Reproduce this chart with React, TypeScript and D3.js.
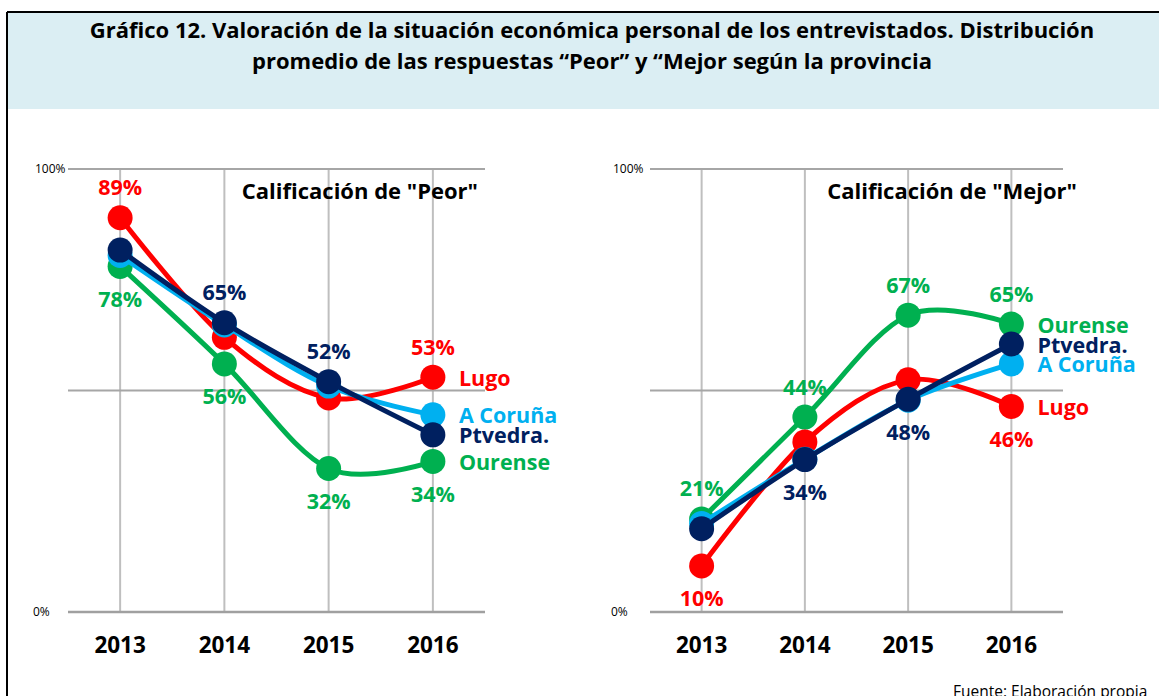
import * as d3 from 'd3'

const years = ['2013', '2014', '2015', '2016']

// draw order: first drawn sits at the bottom
const provinces = ['Ourense', 'Lugo', 'A Coruña', 'Ptvedra.']
const colors: Record<string, string> = {
  Ourense: '#00b050',
  Lugo: '#ff0000',
  'A Coruña': '#00b0f0',
  'Ptvedra.': '#002060',
}

// "Peor" share per year
const peorOurense = [0.78, 0.56, 0.324, 0.34]
const peorLugo = [0.89, 0.62, 0.483, 0.53]
const peorCoruna = [0.805, 0.648, 0.51, 0.445]
const peorPtvedra = [0.817, 0.653, 0.52, 0.4]

// "Mejor" share per year
const mejorOurense = [0.21, 0.44, 0.67, 0.65]
const mejorLugo = [0.104, 0.384, 0.524, 0.464]
const mejorCoruna = [0.2, 0.345, 0.478, 0.56]
const mejorPtvedra = [0.188, 0.344, 0.48, 0.605]

const peorLabels = [
  { province: 'Lugo', year: '2013', pos: 'above' },
  { province: 'Lugo', year: '2016', pos: 'above' },
  { province: 'Ptvedra.', year: '2014', pos: 'above' },
  { province: 'Ptvedra.', year: '2015', pos: 'above' },
  { province: 'Ourense', year: '2013', pos: 'below' },
  { province: 'Ourense', year: '2014', pos: 'below' },
  { province: 'Ourense', year: '2015', pos: 'below' },
  { province: 'Ourense', year: '2016', pos: 'below' },
]

const mejorLabels = [
  { province: 'Ourense', year: '2013', pos: 'above' },
  { province: 'Ourense', year: '2014', pos: 'above' },
  { province: 'Ourense', year: '2015', pos: 'above' },
  { province: 'Ourense', year: '2016', pos: 'above' },
  { province: 'Ptvedra.', year: '2014', pos: 'below' },
  { province: 'Ptvedra.', year: '2015', pos: 'below' },
  { province: 'Lugo', year: '2013', pos: 'below' },
  { province: 'Lugo', year: '2016', pos: 'below' },
]

const titleLines = [
  'Gráfico 12. Valoración de la situación económica personal de los entrevistados. Distribución',
  'promedio de las respuestas “Peor” y “Mejor según la provincia',
]

const FONT = '"Open Sans", Lato, sans-serif'
const W = 1159
const H = 696

type Label = { province: string; year: string; pos: string }

const Panel = ({
  title,
  titleX,
  left,
  right,
  tickX,
  series,
  labels,
}: {
  title: string
  titleX: number
  left: number
  right: number
  tickX: number
  series: Record<string, number[]>
  labels: Label[]
}) => {
  const x = d3.scalePoint<string>().domain(years).range([left, right]).padding(0.5)
  const y = d3.scaleLinear().domain([0, 1]).range([612, 169])
  const line = d3
    .line<number>()
    .x((_, i) => x(years[i]) ?? 0)
    .y(d => y(d))
    .curve(d3.curveCatmullRom.alpha(0))
  const last = years[years.length - 1]

  return (
    <g>
      {years.map(yr => (
        <line key={yr} x1={x(yr)} x2={x(yr)} y1={y(1)} y2={y(0)} stroke="#bfbfbf" strokeWidth={2} />
      ))}
      {[1, 0.5].map(v => (
        <line key={v} x1={left} x2={right} y1={y(v)} y2={y(v)} stroke="#a6a6a6" strokeWidth={2} />
      ))}
      <line x1={left} x2={right} y1={y(0)} y2={y(0)} stroke="#a0a0a0" strokeWidth={2.5} />
      <text x={tickX} y={y(1)} dy="0.35em" fontSize={12} fontFamily={FONT}>100%</text>
      <text x={tickX - 2} y={y(0)} dy="0.35em" fontSize={12} fontFamily={FONT}>0%</text>
      {years.map(yr => (
        <text key={yr} x={x(yr)} y={653} textAnchor="middle" fontSize={22.5} fontWeight="bold" fontFamily={FONT}>
          {yr}
        </text>
      ))}
      <text x={titleX} y={199} textAnchor="end" fontSize={22} fontWeight="bold" fontFamily={FONT}>
        {title}
      </text>
      {provinces.map(p => (
        <g key={p}>
          <path d={line(series[p]) ?? ''} fill="none" stroke={colors[p]} strokeWidth={5} />
          {series[p].map((v, i) => (
            <circle key={i} cx={x(years[i])} cy={y(v)} r={12.5} fill={colors[p]} />
          ))}
        </g>
      ))}
      {provinces.map(p => (
        <text
          key={p}
          x={(x(last) ?? 0) + 26}
          y={y(series[p][years.length - 1]) + 1}
          dy="0.35em"
          fontSize={21.5}
          fontWeight="bold"
          fill={colors[p]}
          fontFamily={FONT}
        >
          {p}
        </text>
      ))}
      {labels.map((l, i) => {
        const v = series[l.province][years.indexOf(l.year)]
        return (
          <text
            key={i}
            x={x(l.year)}
            y={y(v) + (l.pos === 'above' ? -30 : 33)}
            dy="0.35em"
            textAnchor="middle"
            fontSize={21.5}
            fontWeight="bold"
            fill={colors[l.province]}
            fontFamily={FONT}
          >
            {Math.round(v * 100)}%
          </text>
        )
      })}
    </g>
  )
}

export default function App() {
  const peor = { Ourense: peorOurense, Lugo: peorLugo, 'A Coruña': peorCoruna, 'Ptvedra.': peorPtvedra }
  const mejor = { Ourense: mejorOurense, Lugo: mejorLugo, 'A Coruña': mejorCoruna, 'Ptvedra.': mejorPtvedra }
  return (
    <svg width={W} height={H} style={{ position: 'absolute', left: 0, top: 0, background: '#fff' }}>
      <rect x={7} y={12} width={W - 7} height={97} fill="#dbeef3" />
      <line x1={7} x2={W} y1={12} y2={12} stroke="#000" strokeWidth={2} />
      <line x1={7} x2={7} y1={12} y2={H} stroke="#000" strokeWidth={2} />
      {titleLines.map((t, i) => (
        <text key={i} x={592} y={38 + i * 31} textAnchor="middle" fontSize={22} fontWeight="bold" fontFamily={FONT}>
          {t}
        </text>
      ))}
      <Panel title={'Calificación de "Peor"'} titleX={478} left={68} right={485} tickX={35} series={peor} labels={peorLabels} />
      <Panel title={'Calificación de "Mejor"'} titleX={1077} left={650} right={1063} tickX={613} series={mejor} labels={mejorLabels} />
      <text x={953} y={697} fontSize={15.5} fontFamily={FONT}>
        Fuente: Elaboración propia
      </text>
    </svg>
  )
}
